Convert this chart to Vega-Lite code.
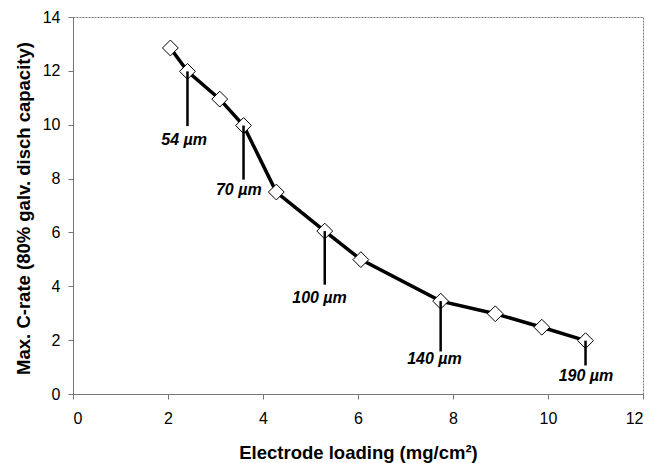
{
  "$schema": "https://vega.github.io/schema/vega-lite/v6.json",
  "autosize": "none",
  "padding": {"left": 73, "top": 17, "right": 11, "bottom": 69},
  "width": 570,
  "height": 377,
  "background": "white",
  "config": {
    "font": "Liberation Sans",
    "view": {"stroke": "#777777", "strokeDash": [2, 1], "strokeWidth": 1},
    "axis": {
      "grid": false,
      "domainColor": "#777777",
      "domainWidth": 1,
      "tickColor": "#777777",
      "tickSize": 5,
      "labelFont": "Liberation Sans",
      "labelFontSize": 16,
      "labelColor": "black",
      "titleFont": "Liberation Sans",
      "titleFontSize": 18.5,
      "titleFontWeight": "bold",
      "titleColor": "black"
    }
  },
  "datasets": {
    "pts": [
      {"loading": 2.05, "crate": 12.85},
      {"loading": 2.41, "crate": 11.98},
      {"loading": 3.09, "crate": 10.95},
      {"loading": 3.59, "crate": 9.97},
      {"loading": 4.28, "crate": 7.5},
      {"loading": 5.3, "crate": 6.05},
      {"loading": 6.06, "crate": 4.99},
      {"loading": 7.74, "crate": 3.45},
      {"loading": 8.89, "crate": 2.98},
      {"loading": 9.87, "crate": 2.48},
      {"loading": 10.79, "crate": 1.98}
    ],
    "notes": [
      {"loading": 2.41, "crate": 11.98, "end": 9.95, "lx": 2.34, "ly": 9.45, "label": "54 µm"},
      {"loading": 3.59, "crate": 9.97, "end": 7.96, "lx": 3.49, "ly": 7.58, "label": "70 µm"},
      {"loading": 5.3, "crate": 6.05, "end": 4.06, "lx": 5.19, "ly": 3.57, "label": "100 µm"},
      {"loading": 7.74, "crate": 3.45, "end": 1.58, "lx": 7.61, "ly": 1.3, "label": "140 µm"},
      {"loading": 10.79, "crate": 1.98, "end": 1.06, "lx": 10.8, "ly": 0.67, "label": "190 µm"}
    ]
  },
  "layer": [
    {
      "data": {"name": "pts"},
      "mark": {"type": "line", "color": "black", "strokeWidth": 3.5},
      "encoding": {
        "x": {
          "field": "loading", "type": "quantitative",
          "scale": {"domain": [0, 12], "nice": false},
          "axis": {
            "values": [0, 2, 4, 6, 8, 10, 12],
            "title": "Electrode loading (mg/cm²)",
            "labelPadding": 11,
            "titleY": 64.5,
            "titleBaseline": "alphabetic"
          }
        },
        "y": {
          "field": "crate", "type": "quantitative",
          "scale": {"domain": [0, 14], "nice": false},
          "axis": {
            "values": [0, 2, 4, 6, 8, 10, 12, 14],
            "title": "Max. C-rate (80% galv. disch capacity)",
            "labelPadding": 8,
            "titleX": -44,
            "titleY": 191,
            "titleBaseline": "alphabetic",
            "titleAlign": "center"
          }
        }
      }
    },
    {
      "data": {"name": "pts"},
      "mark": {"type": "point", "shape": "diamond", "filled": true, "fill": "white", "stroke": "black", "strokeWidth": 1, "size": 250, "opacity": 1},
      "encoding": {
        "x": {"field": "loading", "type": "quantitative"},
        "y": {"field": "crate", "type": "quantitative"}
      }
    },
    {
      "data": {"name": "notes"},
      "mark": {"type": "rule", "color": "black", "strokeWidth": 2.5},
      "encoding": {
        "x": {"field": "loading", "type": "quantitative"},
        "y": {"field": "crate", "type": "quantitative"},
        "y2": {"field": "end"}
      }
    },
    {
      "data": {"name": "notes"},
      "mark": {"type": "text", "font": "Liberation Sans", "fontSize": 16, "fontWeight": "bold", "fontStyle": "italic", "align": "center", "baseline": "middle", "color": "black"},
      "encoding": {
        "x": {"field": "lx", "type": "quantitative"},
        "y": {"field": "ly", "type": "quantitative"},
        "text": {"field": "label"}
      }
    }
  ]
}
